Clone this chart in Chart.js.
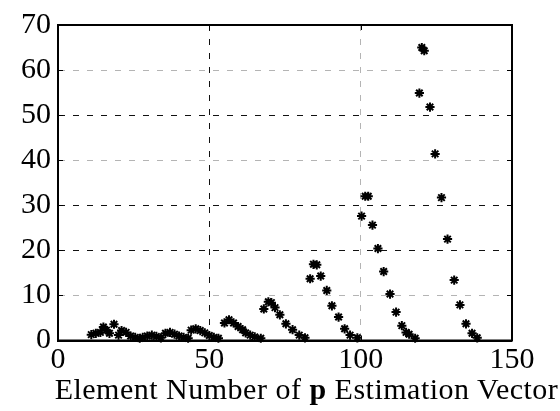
<!DOCTYPE html>
<html>
<head>
<meta charset="utf-8">
<script src="https://cdn.jsdelivr.net/npm/chart.js@4/dist/chart.umd.min.js"></script>
<style>
  html, body { margin: 0; padding: 0; background: #fff; overflow: hidden; }
  #wrap { position: relative; width: 560px; height: 411px; }
  #xTitle {
    position: absolute; left: 0; width: 613px; top: 372px;
    text-align: center; font: 30px "Liberation Serif", "Times New Roman", serif; color: #000;
    letter-spacing: 0.5px; white-space: nowrap;
  }
</style>
</head>
<body>
<div id="wrap">
  <canvas id="chart" width="560" height="411"></canvas>
  <div id="xTitle">Element Number of <b>p</b> Estimation Vector</div>
</div>
<script>
// element number of the p estimation vector
const elementNumbers = [
  11, 12.5, 14, 15, 16, 17, 18.5, 20, 21, 22.5, 24, 25.5, 27,
  28, 29.5, 31, 32.5, 34, 35.5, 37, 38.5, 40, 41.5, 43,
  44, 45.5, 47, 48.5, 50, 51.5, 53,
  55, 56.5, 58, 59.5, 61, 62, 63.5, 65, 67,
  68, 69.5, 70.5, 71.7, 73.3, 75.3, 77.5, 79.7, 81.6,
  83.3, 84.4, 85.5, 86.8, 88.8, 90.5, 92.7, 94.7, 96.5, 98.9,
  100.3, 101.5, 102.5, 103.9, 105.7, 107.6, 109.7, 111.7, 113.6, 115, 116, 118,
  119.4, 120.2, 121, 122.9, 124.6, 126.7, 128.7, 130.9, 132.8, 134.8, 136.8, 138.5,
];
const estimates = [
  1.3, 1.6, 1.8, 3.0, 2.3, 1.6, 3.6, 1.2, 2.2, 1.8, 1.0, 0.7, 0.5,
  0.7, 1.0, 1.2, 0.9, 0.6, 1.6, 1.8, 1.4, 1.0, 0.7, 0.5,
  2.3, 2.6, 2.2, 1.7, 1.1, 0.7, 0.5,
  3.9, 4.6, 3.9, 3.1, 2.4, 1.7, 1.2, 0.8, 0.5,
  7.0, 8.6, 8.4, 7.3, 5.7, 3.7, 2.4, 1.2, 0.6,
  13.7, 16.9, 16.8, 14.3, 11.1, 7.7, 5.2, 2.6, 1.2, 0.6,
  27.6, 32.0, 32.0, 25.6, 20.4, 15.3, 10.3, 6.3, 3.3, 1.8, 1.4, 0.5,
  54.9, 65, 64.3, 51.8, 41.4, 31.7, 22.5, 13.4, 7.9, 3.7, 1.6, 0.6,
];
const xTicks = [0, 50, 100, 150];
const yTicks = [0, 10, 20, 30, 40, 50, 60, 70];
const darkGridY = [20, 30, 50];
const darkGridX = [50];

const tickFont = { family: "'Liberation Serif', 'Times New Roman', serif", size: 30 };

// closed box + short inward tick marks, like the matlab axes
const boxPlugin = {
  id: "box",
  afterDraw(chart) {
    const { ctx, chartArea: a, scales } = chart;
    ctx.save();
    ctx.strokeStyle = "#000";
    ctx.lineWidth = 1;
    ctx.beginPath();
    scales.y.ticks.forEach((t) => {
      const py = Math.round(scales.y.getPixelForValue(t.value)) + 0.5;
      ctx.moveTo(a.left, py); ctx.lineTo(a.left + 5, py);
      ctx.moveTo(a.right, py); ctx.lineTo(a.right - 5, py);
    });
    scales.x.ticks.forEach((t) => {
      const px = Math.round(scales.x.getPixelForValue(t.value)) + 0.5;
      ctx.moveTo(px, a.bottom); ctx.lineTo(px, a.bottom - 5);
      ctx.moveTo(px, a.top); ctx.lineTo(px, a.top + 5);
    });
    ctx.stroke();
    ctx.lineWidth = 2;
    ctx.strokeRect(a.left, a.top, a.right - a.left, a.bottom - a.top);
    ctx.restore();
  },
};

new Chart(document.getElementById("chart"), {
  type: "scatter",
  data: {
    datasets: [
      {
        data: elementNumbers.map((x, i) => ({ x, y: estimates[i] })),
        pointStyle: "star",
        radius: 4.6,
        borderWidth: 2,
        borderColor: "#000",
        backgroundColor: "#000",
        clip: false,
      },
    ],
  },
  options: {
    responsive: false,
    animation: false,
    layout: { padding: { top: 17, right: 48, left: 0, bottom: 0 } },
    plugins: { legend: { display: false }, tooltip: { enabled: false } },
    scales: {
      x: {
        type: "linear",
        min: 0,
        max: 150,
        afterBuildTicks: (s) => { s.ticks = xTicks.map((v) => ({ value: v })); },
        afterFit: (s) => { s.height = 70.5; },
        ticks: { color: "#000", font: tickFont, padding: 2, maxRotation: 0 },
        grid: {
          drawTicks: false,
          lineWidth: (c) => (c.tick && (c.tick.value === 0 || c.tick.value === 150) ? 0 : 1),
          color: (c) => (c.tick && darkGridX.includes(c.tick.value) ? "#111" : "#b4b4b4"),
        },
        border: { display: true, color: "#000", width: 2, dash: [6, 8] },
      },
      y: {
        type: "linear",
        min: 0,
        max: 70,
        afterBuildTicks: (s) => { s.ticks = yTicks.map((v) => ({ value: v })); },
        afterFit: (s) => { s.width = 58; },
        ticks: { color: "#000", font: tickFont, padding: 7 },
        grid: {
          drawTicks: false,
          lineWidth: (c) => (c.tick && (c.tick.value === 0 || c.tick.value === 70) ? 0 : 1),
          color: (c) => (c.tick && darkGridY.includes(c.tick.value) ? "#111" : "#b4b4b4"),
        },
        border: { display: true, color: "#000", width: 2, dash: [6, 8] },
      },
    },
  },
  plugins: [boxPlugin],
});
</script>
</body>
</html>
